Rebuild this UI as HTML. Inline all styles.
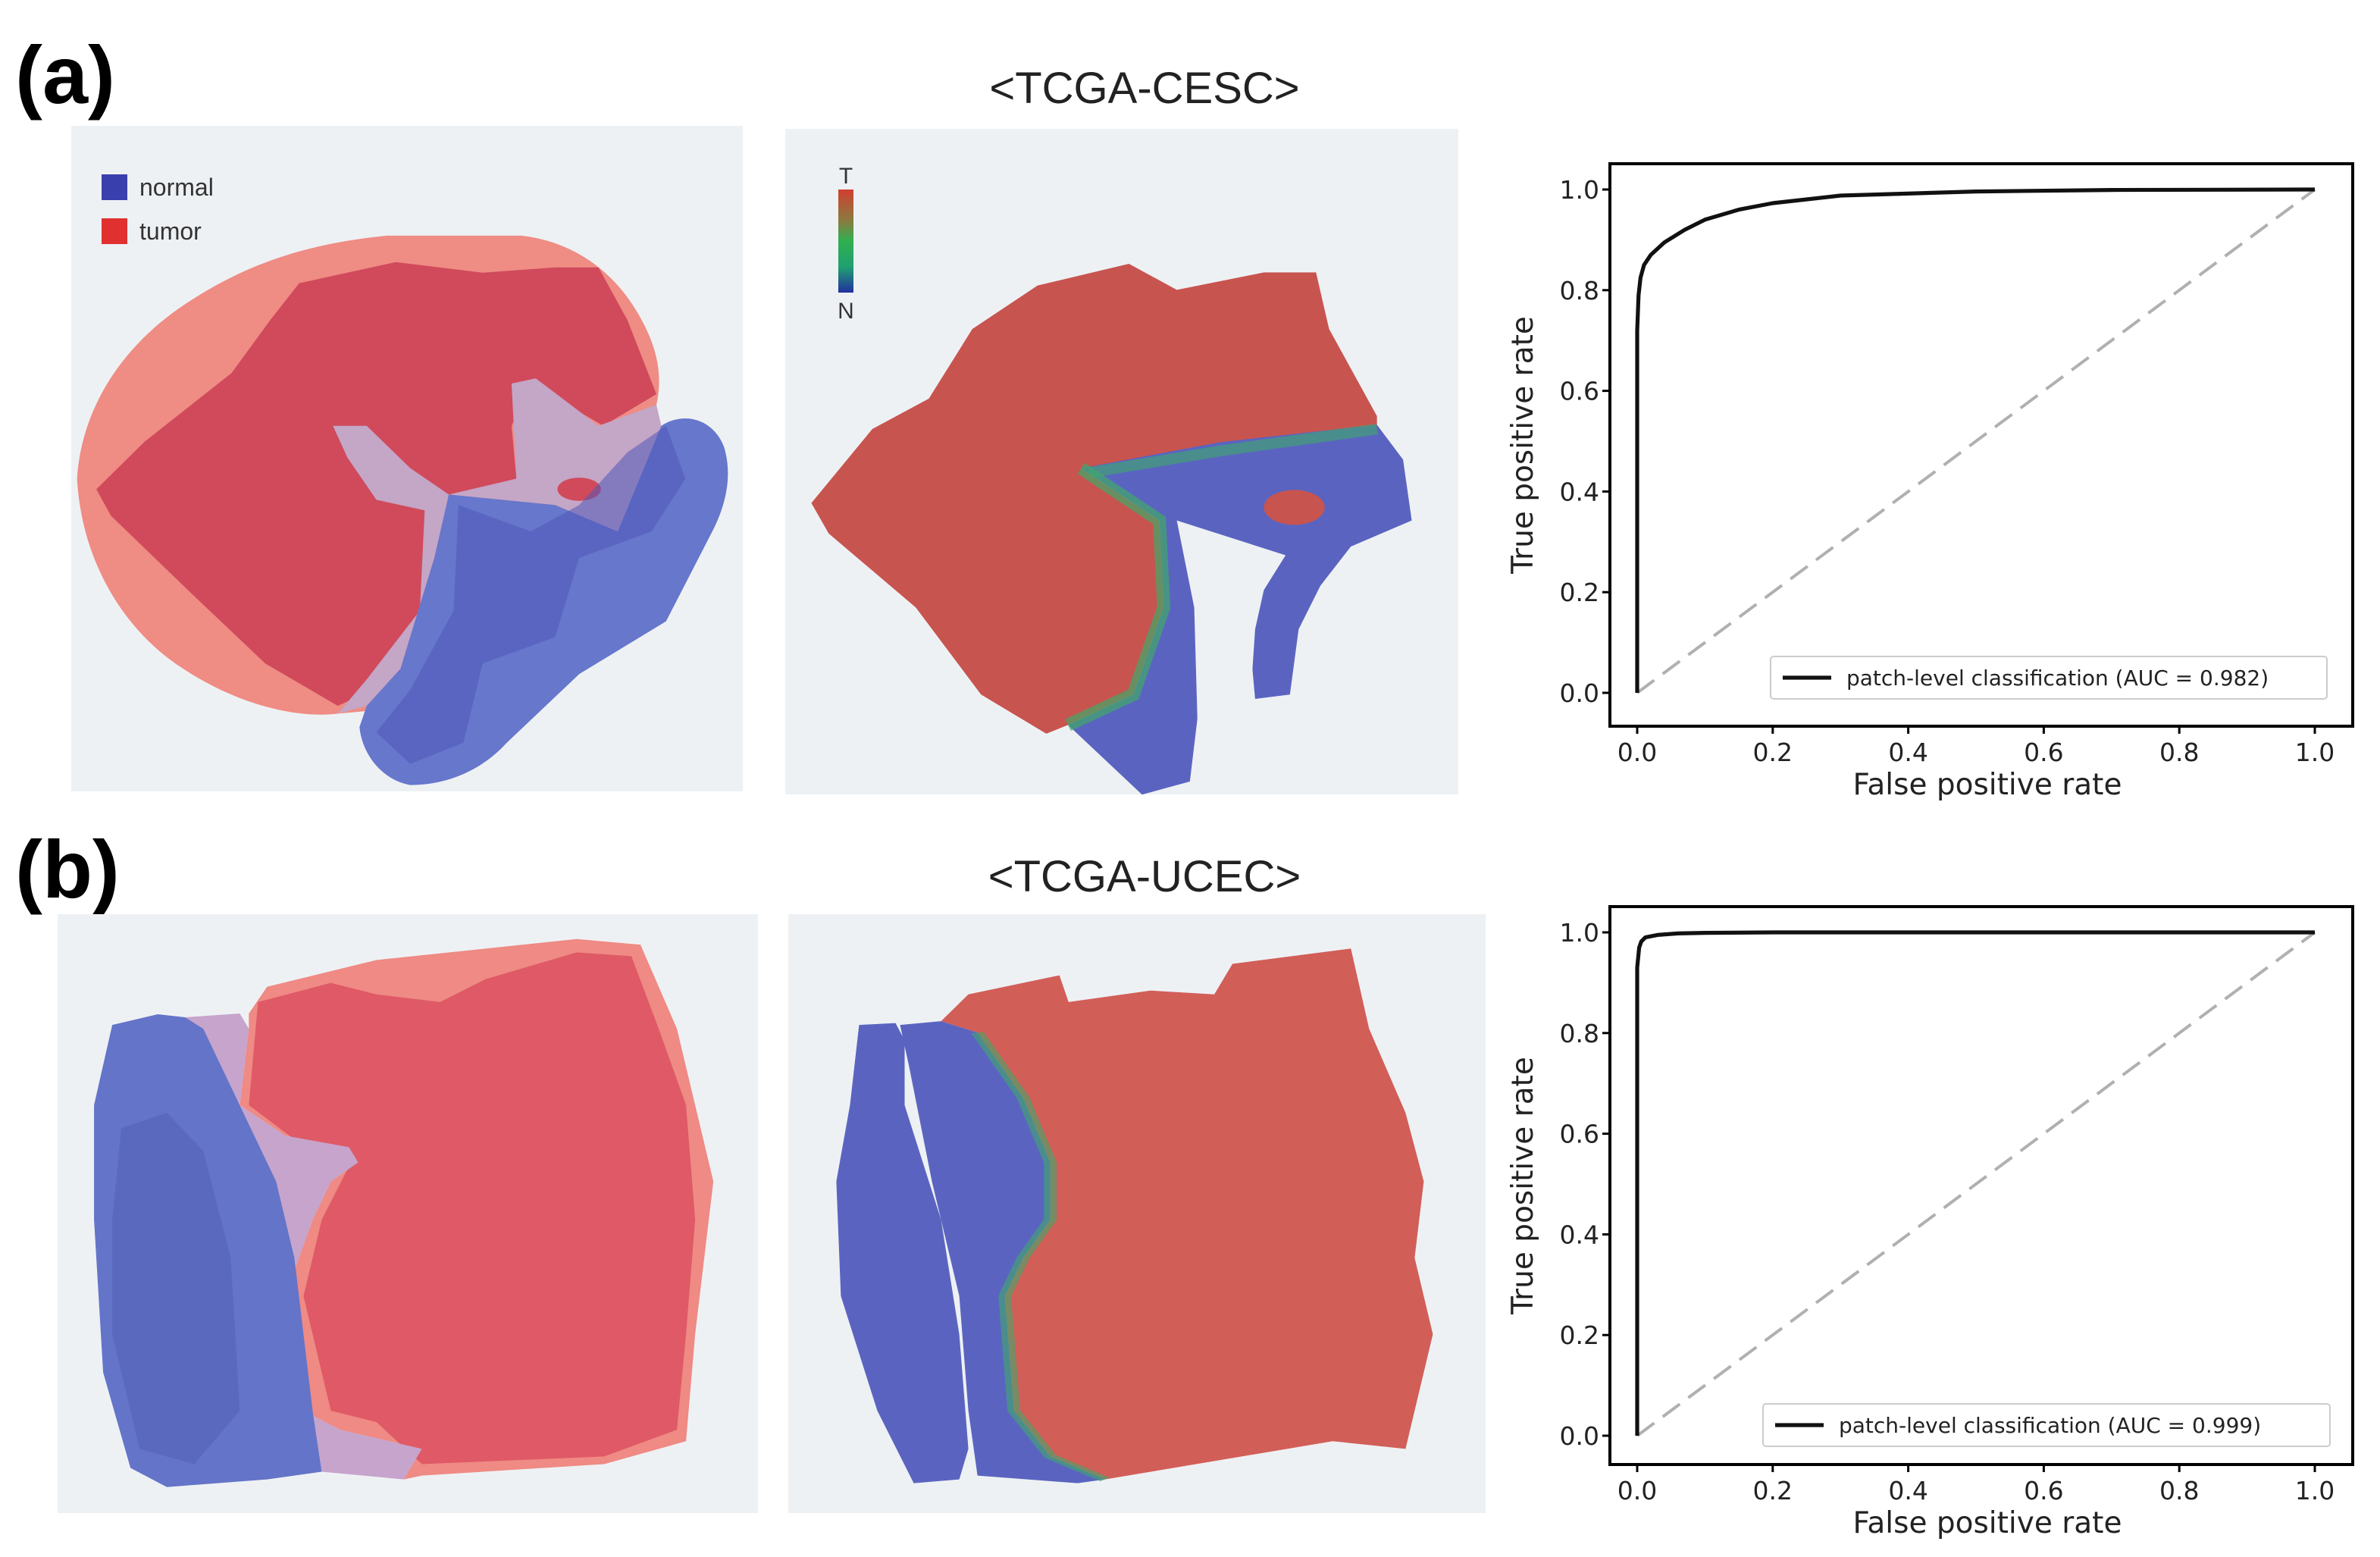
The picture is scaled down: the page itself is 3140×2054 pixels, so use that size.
<!DOCTYPE html>
<html><head><meta charset="utf-8"><style>
html,body{margin:0;padding:0;background:#fff}
svg{display:block}
text{font-family:"DejaVu Sans","Liberation Sans",sans-serif}
.lib{font-family:"Liberation Sans",Arial,sans-serif}
</style></head><body>
<svg id="fig" width="3140" height="2054" viewBox="0 0 1570 1027" xmlns="http://www.w3.org/2000/svg">
<rect width="1570" height="1027" fill="#fff"/>
<text x="10" y="68" font-size="54" font-weight="bold" class="lib">(a)</text>
<text x="10" y="592" font-size="54" font-weight="bold" class="lib">(b)</text>
<text x="755" y="68" font-size="29" text-anchor="middle" class="lib" fill="#222">&lt;TCGA-CESC&gt;</text>
<text x="755" y="588" font-size="29" text-anchor="middle" class="lib" fill="#222">&lt;TCGA-UCEC&gt;</text>

<!-- a left annotation -->
<g>
<rect x="47" y="83" width="443" height="439" fill="#eef1f4"/>
<g transform="translate(47,83) scale(0.3185,0.3484) translate(-148,-232)">
<path d="M160,900 C170,760 260,640 400,560 C520,490 640,455 800,440 L1080,440 C1180,450 1260,500 1310,570 C1360,640 1375,700 1360,760 L1300,900 L760,1340 L700,1345 C600,1355 480,1320 380,1260 C260,1190 170,1060 160,900Z" fill="#ef8c84"/>
<path d="M200,920 L300,830 L480,700 L560,600 L620,530 L820,490 L1000,510 L1150,500 L1240,500 L1300,600 L1360,740 L1250,800 L1100,720 L1060,800 L1070,900 L940,930 L900,950 L880,1150 L820,1280 L700,1330 L550,1250 L400,1120 L230,970Z" fill="#d04a5c"/>
<path d="M690,800 L760,800 L850,880 L930,930 L1070,900 L1060,720 L1110,710 L1240,800 L1360,760 L1370,800 L1280,1000 L1150,950 L930,930 L900,1050 L830,1260 L760,1330 L700,1345 L760,1280 L870,1150 L880,960 L780,940 L720,860Z" fill="#c4a6c6"/>
<ellipse cx="1200" cy="920" rx="45" ry="22" fill="#d04a5c"/>
<path d="M930,930 L1150,950 L1280,1000 L1370,800 C1420,770 1480,790 1500,840 C1520,900 1500,960 1470,1010 L1380,1170 L1200,1270 L1050,1400 C1000,1450 930,1480 850,1480 C790,1470 750,1420 745,1370 L760,1330 L830,1260 L900,1050Z" fill="#6677cc"/>
<path d="M950,950 L1100,1000 L1200,950 L1300,850 L1380,800 L1420,900 L1350,1000 L1200,1050 L1150,1200 L1000,1250 L960,1400 L850,1440 L780,1380 L850,1300 L940,1150Z" fill="#5058b8" opacity="0.55"/>
</g>
<rect x="67" y="115" width="17" height="17" fill="#3a3fae"/>
<text x="92" y="129" font-size="16" fill="#333" class="lib">normal</text>
<rect x="67" y="144" width="17" height="17" fill="#e03030"/>
<text x="92" y="158" font-size="16" fill="#333" class="lib">tumor</text>
</g>

<!-- a middle heatmap -->
<g>
<rect x="518" y="85" width="444" height="439" fill="#eef1f4"/>
<g transform="translate(518,85) scale(0.287)">
<path d="M60,860 L200,690 L330,620 L430,460 L580,360 L790,310 L900,370 L1100,330 L1220,330 L1250,460 L1360,660 L1360,700 L1000,760 L680,780 L860,900 L870,1100 L800,1300 L650,1370 L600,1390 L450,1300 L300,1100 L100,930Z" fill="#c8544f"/>
<path d="M680,780 L1000,720 L1360,680 L1420,760 L1440,900 L1300,960 L1230,1050 L1180,1150 L1160,1300 L1080,1310 L1070,1200 L960,1250 L930,1500 L820,1530 L650,1370 L800,1300 L870,1100 L860,900Z" fill="#5a64c0"/>
<path d="M900,900 L1150,980 L1100,1060 L1080,1150 L1070,1300 L1000,1350 L950,1450 L940,1100 Z" fill="#eef1f4"/>
<ellipse cx="1170" cy="870" rx="70" ry="40" fill="#c8544f"/>
<path d="M680,780 L860,900 L870,1100 L800,1300 L650,1370" fill="none" stroke="#40a86a" stroke-width="30" opacity="0.7"/>
<path d="M700,790 L1000,740 L1360,690" fill="none" stroke="#40a86a" stroke-width="25" opacity="0.6"/>
</g>
<linearGradient id="cb" x1="0" y1="0" x2="0" y2="1"><stop offset="0" stop-color="#d04030"/><stop offset="0.3" stop-color="#8a7a40"/><stop offset="0.5" stop-color="#30b050"/><stop offset="0.75" stop-color="#20a070"/><stop offset="1" stop-color="#2030a0"/></linearGradient>
<rect x="553" y="125" width="10" height="68" fill="url(#cb)"/>
<text x="558" y="121" font-size="15" text-anchor="middle" fill="#333" class="lib">T</text>
<text x="558" y="210" font-size="15" text-anchor="middle" fill="#333" class="lib">N</text>
</g>

<!-- b panels -->
<rect x="38" y="603" width="462" height="395" fill="#eef1f4"/>
<rect x="520" y="603" width="460" height="395" fill="#eef1f4"/>
<g transform="translate(38,603) scale(0.6008,0.2519)">
<path d="M210,260 L230,190 L350,120 L470,90 L570,65 L640,80 L680,300 L700,500 L720,700 L710,900 L700,1100 L690,1380 L600,1440 L400,1470 L380,1480 L400,1400 L310,1350 L270,1300 L250,1000 L280,800 L300,700 L330,650 L320,610 L250,580 L200,500 L210,300Z" fill="#ef8a84"/>
<path d="M220,230 L300,180 L350,210 L420,230 L470,170 L570,100 L630,110 L660,300 L690,500 L700,800 L690,1100 L680,1350 L600,1420 L400,1440 L350,1330 L300,1300 L270,1000 L290,800 L320,660 L260,590 L210,500Z" fill="#df5a66"/>
<path d="M140,270 L200,260 L210,300 L200,500 L250,580 L320,610 L330,650 L300,700 L280,800 L250,1000 L270,1300 L310,1350 L400,1400 L380,1480 L290,1460 L280,1300 L260,900 L240,700 L200,500 L160,300Z" fill="#c6a4cc"/>
<path d="M60,290 L110,262 L140,270 L160,300 L200,500 L240,700 L260,900 L280,1300 L290,1460 L230,1480 L120,1500 L80,1450 L50,1200 L40,800 L40,500Z" fill="#6474c8"/>
<path d="M70,560 L120,520 L160,620 L190,900 L200,1300 L150,1440 L90,1400 L60,1100 L60,800Z" fill="#5360b8" opacity="0.6"/>
<path d="M880,290 L920,285 L930,330 L930,500 L970,800 L990,1100 L1000,1400 L990,1480 L940,1490 L900,1300 L860,1000 L855,700 L870,500Z" fill="#5a64c0"/>
<path d="M970,280 L1000,210 L1060,180 L1100,160 L1110,230 L1200,200 L1270,210 L1290,130 L1420,90 L1440,300 L1480,520 L1500,700 L1490,900 L1510,1100 L1480,1400 L1400,1380 L1300,1420 L1150,1480 L1090,1420 L1050,1300 L1040,1000 L1060,900 L1090,800 L1090,650 L1060,480 L1010,310Z" fill="#d25e58"/>
<path d="M925,290 L970,280 L1010,310 L1060,480 L1090,650 L1090,800 L1060,900 L1040,1000 L1050,1300 L1090,1420 L1150,1480 L1120,1490 L1010,1470 L1000,1300 L990,1000 L960,700 L935,400Z" fill="#5a64c0"/>
<path d="M1010,310 L1060,480 L1090,650 L1090,800 L1060,900 L1040,1000 L1050,1300 L1090,1420 L1150,1480" fill="none" stroke="#40a86a" stroke-width="14" opacity="0.6"/>
</g>

<!-- ROC charts -->
<g id="rocA"></g>
<g id="rocB"></g>
</svg>
<script>
const fprA = [0,0,0.002,0.005,0.01,0.02,0.04,0.07,0.1,0.15,0.2,0.3,0.5,0.7,1];
const tprA = [0,0.72,0.79,0.825,0.85,0.87,0.895,0.92,0.94,0.96,0.973,0.988,0.996,0.999,1];
const fprB = [0,0,0.003,0.006,0.012,0.03,0.06,0.1,0.2,1];
const tprB = [0,0.93,0.97,0.982,0.99,0.995,0.998,0.999,1,1];
const tickValues = [0,0.2,0.4,0.6,0.8,1.0];
const tickLabels = ["0.0","0.2","0.4","0.6","0.8","1.0"];
const aucLabelA = "patch-level classification (AUC = 0.982)";
const aucLabelB = "patch-level classification (AUC = 0.999)";
const NS="http://www.w3.org/2000/svg";
function mk(tag,attrs,parent){const e=document.createElementNS(NS,tag);for(const k in attrs)e.setAttribute(k,attrs[k]);parent.appendChild(e);return e;}
function drawRoc(g,fpr,tpr,label,box,legBox){
  const xS=v=>1080+v*(1527-1080);
  const yS=v=>box.y0+v*(box.y1-box.y0);
  const frame=mk('rect',{x:1062,y:box.top,width:490,height:box.bot-box.top,fill:'#fff',stroke:'#000','stroke-width':2},g);
  
  
  const diag=mk('line',{x1:xS(0),y1:yS(0),x2:xS(1),y2:yS(1),stroke:'#b0b0b0','stroke-width':2,'stroke-dasharray':'14,7'},g);
  
  
  const pts=fpr.map((f,i)=>xS(f).toFixed(1)+','+yS(tpr[i]).toFixed(1)).join(' ');
  const line=mk('polyline',{points:pts,fill:'none',stroke:'#111','stroke-width':2.6,'stroke-linejoin':'round'},g);
  
  
  tickValues.forEach((v,i)=>{
    const tx=mk('line',{x1:xS(v),y1:box.bot,x2:xS(v),y2:box.bot+5,stroke:'#000','stroke-width':1.5},g);
    
    
    const lx=mk('text',{x:xS(v),y:box.bot+23,'font-size':16.5,'text-anchor':'middle',fill:'#222'},g);
    lx.textContent=tickLabels[i];
    
    
    const ty=mk('line',{x1:1057,y1:yS(v),x2:1062,y2:yS(v),stroke:'#000','stroke-width':1.5},g);
    
    
    const ly=mk('text',{x:1055,y:yS(v)+6,'font-size':16.5,'text-anchor':'end',fill:'#222'},g);
    ly.textContent=tickLabels[i];
    
    
  });
  const xt=mk('text',{x:1311,y:box.bot+45,'font-size':19.5,'text-anchor':'middle',fill:'#222'},g);
  xt.textContent='False positive rate';
  
  
  const cy=(box.top+box.bot)/2;
  const yt=mk('text',{x:1011,y:cy,'font-size':19.5,'text-anchor':'middle',fill:'#222',transform:'rotate(-90 1011 '+cy+')'},g);
  yt.textContent='True positive rate';
  
  
  const lg=mk('rect',{x:legBox.x,y:legBox.y,width:legBox.w,height:28,fill:'#fff',stroke:'#ccc','stroke-width':1,rx:2},g);
  
  
  const ll=mk('line',{x1:legBox.x+8,y1:legBox.y+14,x2:legBox.x+40,y2:legBox.y+14,stroke:'#111','stroke-width':2.6},g);
  
  
  const lt=mk('text',{x:legBox.x+50,y:legBox.y+19,'font-size':14,fill:'#222'},g);
  lt.textContent=label;
  
  
}
drawRoc(document.getElementById('rocA'),fprA,tprA,aucLabelA,{top:108,bot:479,y0:457,y1:125},{x:1168,y:433,w:367});
drawRoc(document.getElementById('rocB'),fprB,tprB,aucLabelB,{top:598,bot:966,y0:947,y1:615},{x:1163,y:926,w:374});
</script>
</body></html>
